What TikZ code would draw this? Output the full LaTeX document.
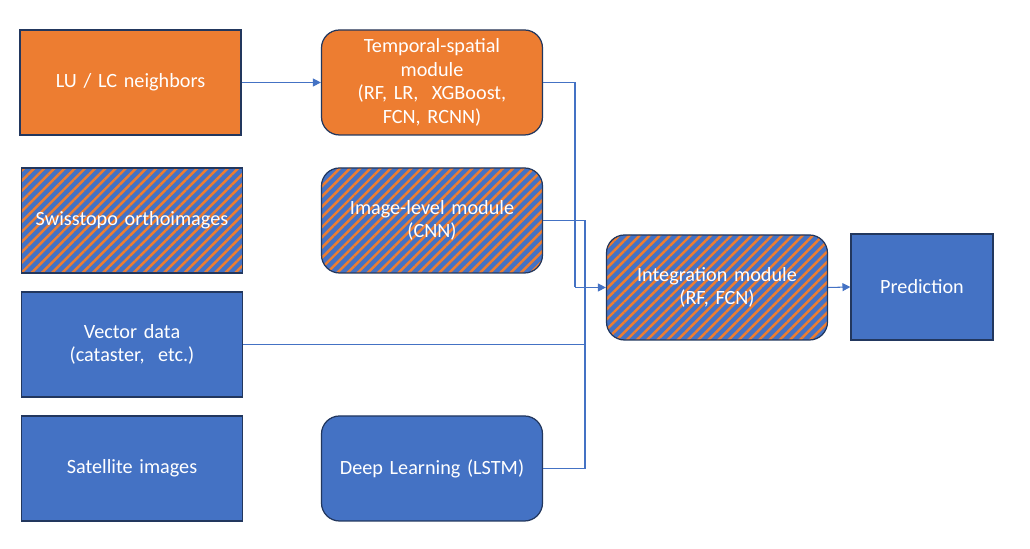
\documentclass[tikz,border=0pt]{standalone}
\usepackage{fontspec}
\setmainfont{Carlito}
\usepackage{tikz}
\usetikzlibrary{positioning,arrows.meta,patterns.meta}

\definecolor{ppblue}{HTML}{4472C4}
\definecolor{pporange}{HTML}{ED7D31}
\definecolor{ppedge}{HTML}{22375E}

\begin{document}
\begin{tikzpicture}
	\tikzset{
		box/.style={draw=ppedge,line width=0.7pt,minimum width=4.42cm,minimum height=2.1cm,
			text width=4.1cm,align=center,text=white,font=\fontsize{11.5}{13.5}\selectfont},
		orangebox/.style={box,fill=pporange},
		bluebox/.style={box,fill=ppblue},
		stripebox/.style={box,preaction={fill=ppblue},
			preaction={pattern={Lines[angle=45,distance=4.1pt,line width=1.4pt]},pattern color=pporange}},
		module/.style={rounded corners=0.36cm},
		line/.style={draw=ppblue,line width=0.6pt},
		arr/.style={line,-{Triangle[length=4.5pt,width=4.5pt]}}
	}
	\useasboundingbox (0,0) rectangle (20.6,10.98);
	% inputs
	\node[orangebox] (lulc) at (2.61,9.33) {LU / LC neighbors};
	\node[stripebox] (swiss) at (2.64,6.57) {Swisstopo orthoimages};
	\node[bluebox] (vector) at (2.64,4.09) {Vector data\\(cataster,~~etc.)};
	\node[bluebox] (sat) at (2.64,1.61) {Satellite images};
	% modules
	\node[orangebox,module] (temp) at (8.64,9.33) {Temporal-spatial\\module\\(RF, LR,~~XGBoost,\\FCN, RCNN)};
	\node[stripebox,module] (imglvl) at (8.64,6.57) {Image-level module\\(CNN)};
	\node[bluebox,module] (deep) at (8.64,1.61) {Deep Learning (LSTM)};
	\node[stripebox,module] (integ) at (14.34,5.23) {Integration module\\(RF, FCN)};
	\node[bluebox,minimum width=2.84cm,minimum height=2.12cm,text width=2.6cm] (pred) at (18.44,5.24) {Prediction};
	% joins
	\coordinate (j1) at (11.5,5.23);
	\coordinate (j2) at (11.7,5.23);
	\path[arr] (lulc.east) -- (temp.west);
	\path[line] (temp.east) -| (j1);
	\path[line] (imglvl.east) -| (j2);
	\path[line] (vector.east) -| (j2);
	\path[line] (deep.east) -| (j2);
	\path[arr] (j1) -- (integ.west);
	\path[arr] (integ.east) -- (pred.west);
\end{tikzpicture}
\end{document}
